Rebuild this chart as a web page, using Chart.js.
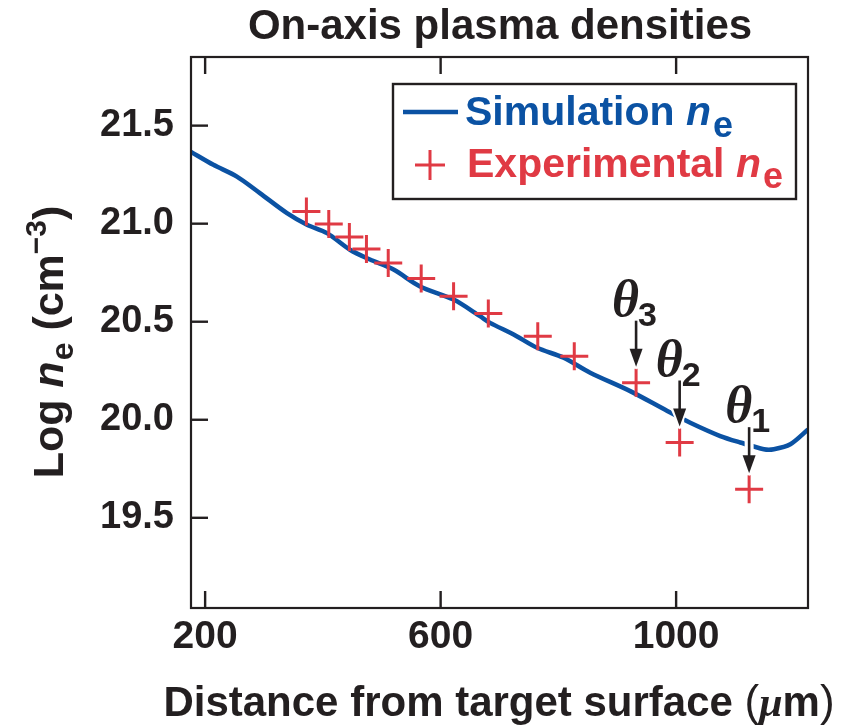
<!DOCTYPE html>
<html><head><meta charset="utf-8">
<script src="https://cdn.jsdelivr.net/npm/chart.js@4/dist/chart.umd.min.js"></script>
<style>html,body{margin:0;padding:0;background:#fff}#wrap{width:858px;height:725px}</style>
</head><body><div id="wrap"><canvas id="c" width="858" height="725"></canvas></div>
<script>
// ---- data ----
const simX = [176, 214, 254, 293, 339, 373, 407, 446, 480, 520, 565, 622, 667, 684, 724, 764, 809, 854, 922, 985, 1024, 1075, 1109, 1149, 1166, 1194, 1224];
const simY = [21.366, 21.30, 21.24, 21.156, 21.054, 20.995, 20.952, 20.867, 20.817, 20.766, 20.68, 20.613, 20.528, 20.494, 20.435, 20.367, 20.316, 20.24, 20.146, 20.045, 19.985, 19.917, 19.884, 19.85, 19.85, 19.875, 19.95];
const expX = [372, 410, 445, 474, 511, 567, 622, 681, 765, 827, 932, 1006, 1124];
const expY = [21.062, 20.998, 20.932, 20.871, 20.80, 20.72, 20.63, 20.542, 20.426, 20.324, 20.189, 19.884, 19.646];
const xTicks = [200, 600, 1000];
const yTicks = [19.5, 20.0, 20.5, 21.0, 21.5];
const markedIdx = [10, 11, 12];
const markedLabels = ['3', '2', '1'];
const titleText = 'On-axis plasma densities';

// ---- styles ----
const INK = '#231f20';
const BLUE = '#0b52a3';
const RED = '#e03a44';
const SANS = "'Liberation Sans', Arial, sans-serif";
const SERIF = "'Liberation Serif', 'Times New Roman', serif";

function drawRich(ctx, segs, x, y, align) {
  let w = 0;
  segs.forEach(s => { ctx.font = s.font; s.w = ctx.measureText(s.t).width; w += s.w + (s.dx || 0); });
  let cx = align === 'center' ? x - w / 2 : (align === 'right' ? x - w : x);
  ctx.textAlign = 'left';
  ctx.textBaseline = 'alphabetic';
  segs.forEach(s => {
    ctx.font = s.font; ctx.fillStyle = s.color || INK;
    cx += (s.dx || 0);
    ctx.fillText(s.t, cx, y + (s.dy || 0));
    cx += s.w;
  });
}

const deco = {
  id: 'deco',
  afterDatasetsDraw(chart) {
    const ctx = chart.ctx, xs = chart.scales.x, ys = chart.scales.y, a = chart.chartArea;
    ctx.save();
    // arrows + theta labels
    markedIdx.forEach((idx, k) => {
      const px = xs.getPixelForValue(expX[idx]);
      const py = ys.getPixelForValue(expY[idx]);
      const tip = py - 16, top = tip - 46;
      // white halo
      ctx.strokeStyle = '#fff'; ctx.lineWidth = 9; ctx.lineCap = 'butt';
      ctx.beginPath(); ctx.moveTo(px, top); ctx.lineTo(px, tip - 4); ctx.stroke();
      ctx.fillStyle = '#fff';
      ctx.beginPath(); ctx.moveTo(px - 11, tip - 22); ctx.lineTo(px + 11, tip - 22); ctx.lineTo(px, tip + 3); ctx.closePath(); ctx.fill();
      // arrow
      ctx.strokeStyle = INK; ctx.lineWidth = 2.6;
      ctx.beginPath(); ctx.moveTo(px, top); ctx.lineTo(px, tip - 12); ctx.stroke();
      ctx.fillStyle = INK;
      ctx.beginPath(); ctx.moveTo(px - 6.5, tip - 18); ctx.lineTo(px + 6.5, tip - 18); ctx.lineTo(px, tip); ctx.closePath(); ctx.fill();
      // label
      ctx.font = 'italic bold 52px ' + SERIF;
      const tw = ctx.measureText('\u03B8').width;
      ctx.fillStyle = INK; ctx.textAlign = 'left'; ctx.textBaseline = 'alphabetic';
      ctx.fillText('\u03B8', px - tw + 3, top - 5);
      ctx.font = 'bold 34px ' + SANS;
      ctx.fillText(markedLabels[k], px + 2, top + 5);
    });
    // frame
    ctx.strokeStyle = INK; ctx.lineWidth = 2.2;
    ctx.strokeRect(a.left, a.top, a.right - a.left, a.bottom - a.top);
    // inward ticks
    ctx.lineWidth = 2.4;
    xTicks.forEach(v => {
      const px = xs.getPixelForValue(v);
      ctx.beginPath(); ctx.moveTo(px, a.bottom); ctx.lineTo(px, a.bottom - 17);
      ctx.moveTo(px, a.top); ctx.lineTo(px, a.top + 17); ctx.stroke();
    });
    yTicks.forEach(v => {
      const py = ys.getPixelForValue(v);
      ctx.beginPath(); ctx.moveTo(a.left, py); ctx.lineTo(a.left + 17, py); ctx.stroke();
    });
    // legend
    ctx.fillStyle = '#fff';
    ctx.fillRect(393, 84, 403, 115);
    ctx.strokeStyle = INK; ctx.lineWidth = 2.4;
    ctx.strokeRect(393, 84, 403, 115);
    ctx.strokeStyle = BLUE; ctx.lineWidth = 4.5;
    ctx.beginPath(); ctx.moveTo(403, 112); ctx.lineTo(458, 112); ctx.stroke();
    drawRich(ctx, [
      { t: 'Simulation ', font: 'bold 41px ' + SANS, color: BLUE },
      { t: 'n', font: 'italic bold 41px ' + SANS, color: BLUE },
      { t: 'e', font: 'bold 36px ' + SANS, color: BLUE, dy: 12, dx: 2 }
    ], 465, 125, 'left');
    ctx.strokeStyle = RED; ctx.lineWidth = 3;
    ctx.beginPath(); ctx.moveTo(415, 165); ctx.lineTo(445, 165); ctx.moveTo(430, 150); ctx.lineTo(430, 180); ctx.stroke();
    drawRich(ctx, [
      { t: 'Experimental ', font: 'bold 41px ' + SANS, color: RED },
      { t: 'n', font: 'italic bold 41px ' + SANS, color: RED },
      { t: 'e', font: 'bold 36px ' + SANS, color: RED, dy: 11, dx: 2 }
    ], 467, 177, 'left');
    ctx.restore();
  },
  afterDraw(chart) {
    const ctx = chart.ctx;
    ctx.save();
    // title
    drawRich(ctx, [{ t: titleText, font: 'bold 42px ' + SANS }], 500, 39, 'center');
    // x title
    drawRich(ctx, [
      { t: 'Distance from target surface ', font: 'bold 42px ' + SANS },
      { t: '(', font: '44px ' + SANS },
      { t: '\u03BC', font: 'italic bold 42px ' + SERIF },
      { t: 'm', font: 'bold 42px ' + SANS },
      { t: ')', font: '44px ' + SANS }
    ], 499, 716, 'center');
    // y title
    ctx.translate(63, 342);
    ctx.rotate(-Math.PI / 2);
    drawRich(ctx, [
      { t: 'Log ', font: 'bold 43px ' + SANS },
      { t: 'n', font: 'italic bold 43px ' + SANS },
      { t: 'e', font: 'bold 32px ' + SANS, dy: 10, dx: 1 },
      { t: ' (cm', font: 'bold 43px ' + SANS },
      { t: '\u22123', font: 'bold 30px ' + SANS, dy: -17 },
      { t: ')', font: 'bold 43px ' + SANS }
    ], 0, 0, 'center');
    ctx.restore();
  }
};

new Chart(document.getElementById('c'), {
  type: 'scatter',
  data: {
    datasets: [
      {
        label: 'Simulation',
        type: 'line',
        data: simX.map((x, i) => ({ x, y: simY[i] })),
        borderColor: BLUE, borderWidth: 4.5, pointRadius: 0, tension: 0.3,
        fill: false, order: 2
      },
      {
        label: 'Experimental',
        data: expX.map((x, i) => ({ x, y: expY[i] })),
        pointStyle: 'cross', pointRadius: 14, borderColor: RED, borderWidth: 3,
        backgroundColor: RED, order: 1
      }
    ]
  },
  options: {
    responsive: false, animation: false, devicePixelRatio: 1,
    layout: { padding: { left: 0, right: 50, top: 57, bottom: 0 } },
    plugins: { legend: { display: false }, title: { display: false }, tooltip: { enabled: false } },
    scales: {
      x: {
        type: 'linear', min: 176, max: 1224,
        afterBuildTicks: s => { s.ticks = xTicks.map(v => ({ value: v })); },
        grid: { display: false, drawTicks: false }, border: { display: false },
        ticks: { color: INK, font: { family: SANS, size: 39, weight: 'bold' }, padding: 6, maxRotation: 0, callback: v => String(v) },
        afterFit: s => { s.height = 117; }
      },
      y: {
        type: 'linear', min: 19.04, max: 21.85,
        afterBuildTicks: s => { s.ticks = yTicks.map(v => ({ value: v })); },
        grid: { display: false, drawTicks: false }, border: { display: false },
        ticks: { color: INK, font: { family: SANS, size: 38, weight: 'bold' }, padding: 17, callback: v => Number(v).toFixed(1) },
        afterFit: s => { s.width = 191; }
      }
    }
  },
  plugins: [deco]
});
</script>
</body></html>
